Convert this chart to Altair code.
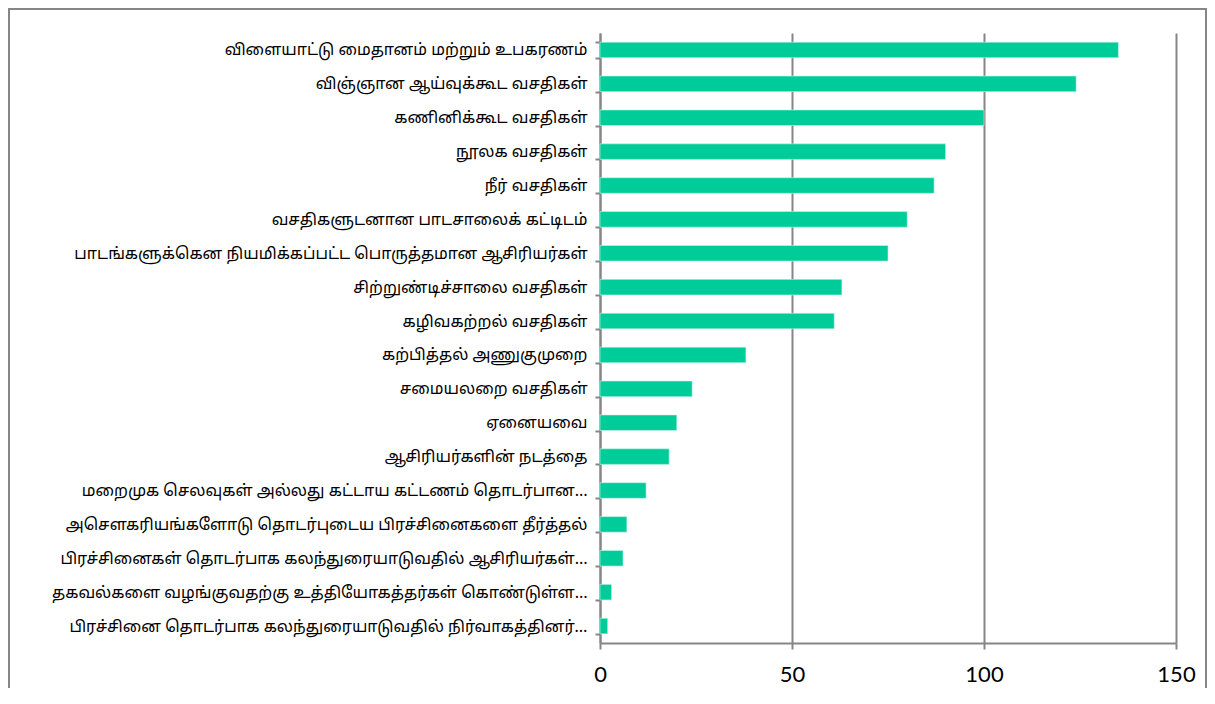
import altair as alt
import pandas as pd

categories = [
    "விளையாட்டு மைதானம் மற்றும் உபகரணம்",
    "விஞ்ஞான ஆய்வுக்கூட வசதிகள்",
    "கணினிக்கூட வசதிகள்",
    "நூலக வசதிகள்",
    "நீர் வசதிகள்",
    "வசதிகளுடனான பாடசாலைக் கட்டிடம்",
    "பாடங்களுக்கென நியமிக்கப்பட்ட பொருத்தமான ஆசிரியர்கள்",
    "சிற்றுண்டிச்சாலை வசதிகள்",
    "கழிவகற்றல் வசதிகள்",
    "கற்பித்தல் அணுகுமுறை",
    "சமையலறை வசதிகள்",
    "ஏனையவை",
    "ஆசிரியர்களின் நடத்தை",
    "மறைமுக செலவுகள் அல்லது கட்டாய கட்டணம் தொடர்பான…",
    "அசௌகரியங்களோடு தொடர்புடைய பிரச்சினைகளை தீர்த்தல்",
    "பிரச்சினைகள் தொடர்பாக கலந்துரையாடுவதில் ஆசிரியர்கள்…",
    "தகவல்களை வழங்குவதற்கு உத்தியோகத்தர்கள் கொண்டுள்ள…",
    "பிரச்சினை தொடர்பாக கலந்துரையாடுவதில் நிர்வாகத்தினர்…",
]
values = [135, 124, 100, 90, 87, 80, 75, 63, 61, 38, 24, 20, 18, 12, 7, 6, 3, 2]
x_ticks = [0, 50, 100, 150]

df = pd.DataFrame({"category": categories, "value": values})
frame_df = pd.DataFrame({"k": [0]})

GRID = "#868686"
TAMIL_FONT = "Noto Sans Tamil, Latha, Noto Sans, DejaVu Sans"

bars = alt.Chart(df).mark_bar(color="#00CC99", stroke="#c8f5e6", strokeWidth=0.6).encode(
    x=alt.X(
        "value:Q",
        scale=alt.Scale(domain=[0, 150], nice=False),
        axis=alt.Axis(
            values=x_ticks,
            title=None,
            grid=True,
            gridColor=GRID,
            gridWidth=2,
            domainColor=GRID,
            domainWidth=2,
            tickColor=GRID,
            tickWidth=2,
            tickSize=6,
            labelFont="Lato",
            labelFontSize=22,
            labelColor="#000000",
            labelPadding=15,
            labelFlush=False,
        ),
    ),
    y=alt.Y(
        "category:N",
        sort=categories,
        scale=alt.Scale(paddingInner=0.54, paddingOuter=0.27),
        axis=alt.Axis(
            title=None,
            domainColor=GRID,
            domainWidth=2,
            tickColor=GRID,
            tickWidth=2,
            tickSize=5,
            tickBand="extent",
            labelFont=TAMIL_FONT,
            labelFontSize=16,
            labelColor="#000000",
            labelPadding=8,
            labelLimit=0,
        ),
    ),
)

frame_base = alt.Chart(frame_df).mark_rule(color=GRID, strokeWidth=2, clip=False)
left_edge = frame_base.encode(x=alt.value(-591), y=alt.value(-24), y2=alt.value(700))
top_edge = frame_base.encode(x=alt.value(-592), x2=alt.value(607), y=alt.value(-24))
right_edge = frame_base.encode(x=alt.value(606), y=alt.value(-24), y2=alt.value(700))

chart = alt.layer(left_edge, top_edge, right_edge, bars).properties(
    width=576,
    height=610,
    autosize=alt.AutoSizeParams(type="none"),
    padding={"left": 592, "top": 25, "right": 31, "bottom": 45},
).configure_view(stroke=None)

chart.save("out.html", embed_options={"renderer": "svg", "actions": False})
